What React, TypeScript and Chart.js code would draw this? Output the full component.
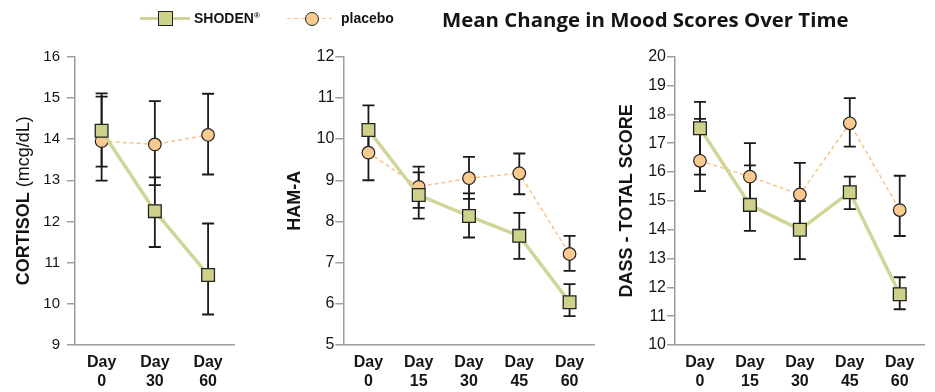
import React, { useEffect, useRef } from "react";
import { Chart, registerables } from "chart.js";

Chart.register(...registerables);

const FONT = "'Liberation Sans', Arial, Helvetica, sans-serif";

// ---- Data ----
const cortisolLabels = [["Day", "0"], ["Day", "30"], ["Day", "60"]];
const cortisolShoden = [14.2, 12.25, 10.7];
const cortisolShodenLow = [13.33, 11.38, 9.74];
const cortisolShodenHigh = [15.03, 13.07, 11.95];
const cortisolPlacebo = [13.95, 13.87, 14.1];
const cortisolPlaceboLow = [12.99, 12.88, 13.14];
const cortisolPlaceboHigh = [15.11, 14.92, 15.1];

const hamaLabels = [["Day", "0"], ["Day", "15"], ["Day", "30"], ["Day", "45"], ["Day", "60"]];
const hamaShoden = [10.22, 8.64, 8.13, 7.65, 6.04];
const hamaShodenLow = [9.62, 8.07, 7.61, 7.09, 5.7];
const hamaShodenHigh = [10.82, 9.19, 8.68, 8.21, 6.48];
const hamaPlacebo = [9.67, 8.84, 9.05, 9.17, 7.21];
const hamaPlaceboLow = [9.0, 8.33, 8.55, 8.66, 6.8];
const hamaPlaceboHigh = [10.34, 9.33, 9.57, 9.65, 7.65];

const dassLabels = [["Day", "0"], ["Day", "15"], ["Day", "30"], ["Day", "45"], ["Day", "60"]];
const dassShoden = [17.52, 14.86, 14.0, 15.3, 11.76];
const dassShodenLow = [15.91, 13.96, 12.98, 14.71, 11.24];
const dassShodenHigh = [18.43, 16.23, 14.99, 15.84, 12.35];
const dassPlacebo = [16.39, 15.84, 15.22, 17.69, 14.68];
const dassPlaceboLow = [15.34, 14.8, 14.12, 16.88, 13.78];
const dassPlaceboHigh = [17.84, 17.0, 16.32, 18.56, 15.87];

const seriesNames = ["SHODEN", "placebo"];
const chartTitle = "Mean Change in Mood Scores Over Time";

// ---- Styles ----
const SHODEN_LINE = "#d2d597";
const SHODEN_FILL = "#cdd18a";
const PLACEBO_LINE = "#f8c48c";
const PLACEBO_FILL = "#f9c98f";
const MARK_BORDER = "#222222";
const AXIS_GRAY = "#9e9e9e";
const TEXT = "#151515";

const errorBarPlugin = {
  id: "errorBars",
  beforeDatasetsDraw(chart: any) {
    const ctx = chart.ctx;
    const yScale = chart.scales.y;
    chart.data.datasets.forEach((ds: any, i: number) => {
      if (!ds.errLow) return;
      const meta = chart.getDatasetMeta(i);
      ctx.save();
      ctx.strokeStyle = "#1a1a1a";
      ctx.lineWidth = 1.8;
      meta.data.forEach((pt: any, j: number) => {
        const x = pt.x;
        const yl = yScale.getPixelForValue(ds.errLow[j]);
        const yh = yScale.getPixelForValue(ds.errHigh[j]);
        ctx.beginPath();
        ctx.moveTo(x, yl);
        ctx.lineTo(x, yh);
        ctx.moveTo(x - 6, yl);
        ctx.lineTo(x + 6, yl);
        ctx.moveTo(x - 6, yh);
        ctx.lineTo(x + 6, yh);
        ctx.stroke();
      });
      ctx.restore();
    });
  },
};

type Seg = { text: string; bold: boolean };

function makeTitlePlugin(segs: Seg[], cx: number, size: number) {
  return {
    id: "yTitle",
    afterDraw(chart: any) {
      const ctx = chart.ctx;
      const area = chart.chartArea;
      const cy = (area.top + area.bottom) / 2;
      ctx.save();
      ctx.translate(cx, cy);
      ctx.rotate(-Math.PI / 2);
      ctx.fillStyle = TEXT;
      ctx.textBaseline = "middle";
      ctx.textAlign = "left";
      let total = 0;
      const widths = segs.map((s) => {
        ctx.font = `${s.bold ? "bold " : ""}${size}px ${FONT}`;
        const w = ctx.measureText(s.text).width;
        total += w;
        return w;
      });
      let x = -total / 2;
      segs.forEach((s, k) => {
        ctx.font = `${s.bold ? "bold " : ""}${size}px ${FONT}`;
        ctx.fillText(s.text, x, 0);
        x += widths[k];
      });
      ctx.restore();
    },
  };
}

type PanelProps = {
  labels: string[][];
  shoden: number[];
  shodenLow: number[];
  shodenHigh: number[];
  placebo: number[];
  placeboLow: number[];
  placeboHigh: number[];
  yMin: number;
  yMax: number;
  left: number;
  width: number;
  yAxisWidth: number;
  padRight: number;
  tickPad: number;
  tickSize: number;
  titleSegs: Seg[];
  titleX: number;
};

function Panel(p: PanelProps) {
  const ref = useRef<HTMLCanvasElement | null>(null);
  useEffect(() => {
    if (!ref.current) return;
    const chart = new Chart(ref.current, {
      type: "line",
      data: {
        labels: p.labels as any,
        datasets: [
          {
            label: seriesNames[0],
            data: p.shoden,
            errLow: p.shodenLow,
            errHigh: p.shodenHigh,
            borderColor: SHODEN_LINE,
            borderWidth: 3.5,
            pointStyle: "rect",
            pointRadius: 9,
            pointHoverRadius: 9,
            pointBackgroundColor: SHODEN_FILL,
            pointBorderColor: MARK_BORDER,
            pointBorderWidth: 1.3,
            tension: 0,
          } as any,
          {
            label: seriesNames[1],
            data: p.placebo,
            errLow: p.placeboLow,
            errHigh: p.placeboHigh,
            borderColor: PLACEBO_LINE,
            borderWidth: 1.5,
            borderDash: [4, 3],
            pointStyle: "circle",
            pointRadius: 6.3,
            pointHoverRadius: 6.3,
            pointBackgroundColor: PLACEBO_FILL,
            pointBorderColor: MARK_BORDER,
            pointBorderWidth: 1.2,
            tension: 0,
          } as any,
        ],
      },
      options: {
        responsive: false,
        maintainAspectRatio: false,
        animation: false,
        events: [],
        layout: { padding: { top: 56.7, right: p.padRight, left: 0, bottom: 0 } },
        plugins: {
          legend: { display: false },
          tooltip: { enabled: false },
          title: { display: false },
        },
        scales: {
          x: {
            type: "category",
            offset: true,
            grid: { drawOnChartArea: false, drawTicks: false },
            border: { color: AXIS_GRAY, width: 1.5 },
            ticks: {
              color: TEXT,
              padding: 8,
              maxRotation: 0,
              autoSkip: false,
              font: { family: FONT, size: 16, weight: "bold", lineHeight: 1.2 },
            },
            afterFit: (s: any) => {
              s.height = 47;
            },
          },
          y: {
            min: p.yMin,
            max: p.yMax,
            grid: {
              drawOnChartArea: false,
              drawTicks: true,
              tickLength: 8,
              color: AXIS_GRAY,
              lineWidth: 1.5,
            },
            border: { color: AXIS_GRAY, width: 1.5 },
            ticks: {
              stepSize: 1,
              color: TEXT,
              padding: p.tickPad,
              font: { family: FONT, size: p.tickSize },
            },
            afterFit: (s: any) => {
              s.width = p.yAxisWidth;
            },
          },
        },
      } as any,
      plugins: [errorBarPlugin, makeTitlePlugin(p.titleSegs, p.titleX, 18)],
    });
    return () => chart.destroy();
  }, []);
  return (
    <canvas
      ref={ref}
      width={p.width}
      height={392}
      style={{ position: "absolute", left: p.left, top: 0, width: p.width, height: 392 }}
    />
  );
}

export default function App() {
  return (
    <div
      style={{
        position: "fixed",
        left: 0,
        top: 0,
        width: 935,
        height: 392,
        background: "#fff",
        fontFamily: FONT,
        overflow: "hidden",
      }}
    >
      <Panel
        labels={cortisolLabels}
        shoden={cortisolShoden}
        shodenLow={cortisolShodenLow}
        shodenHigh={cortisolShodenHigh}
        placebo={cortisolPlacebo}
        placeboLow={cortisolPlaceboLow}
        placeboHigh={cortisolPlaceboHigh}
        yMin={9}
        yMax={16}
        left={0}
        width={245}
        yAxisWidth={75}
        padRight={8}
        tickPad={7}
        tickSize={15}
        titleSegs={[
          { text: "CORTISOL", bold: true },
          { text: " (mcg/dL)", bold: false },
        ]}
        titleX={24}
      />
      <Panel
        labels={hamaLabels}
        shoden={hamaShoden}
        shodenLow={hamaShodenLow}
        shodenHigh={hamaShodenHigh}
        placebo={hamaPlacebo}
        placeboLow={hamaPlaceboLow}
        placeboHigh={hamaPlaceboHigh}
        yMin={5}
        yMax={12}
        left={245}
        width={360}
        yAxisWidth={98.3}
        padRight={8.3}
        tickPad={1}
        tickSize={16}
        titleSegs={[{ text: "HAM-A", bold: true }]}
        titleX={50}
      />
      <Panel
        labels={dassLabels}
        shoden={dassShoden}
        shodenLow={dassShodenLow}
        shodenHigh={dassShodenHigh}
        placebo={dassPlacebo}
        placeboLow={dassPlaceboLow}
        placeboHigh={dassPlaceboHigh}
        yMin={10}
        yMax={20}
        left={605}
        width={330}
        yAxisWidth={70}
        padRight={7}
        tickPad={1}
        tickSize={16}
        titleSegs={[{ text: "DASS - TOTAL SCORE", bold: true }]}
        titleX={22}
      />

      {/* Legend */}
      <div
        style={{
          position: "absolute",
          left: 140,
          top: 16.5,
          width: 50,
          height: 3.5,
          background: SHODEN_LINE,
        }}
      />
      <div
        style={{
          position: "absolute",
          left: 158,
          top: 11,
          width: 15,
          height: 15,
          boxSizing: "border-box",
          background: SHODEN_FILL,
          border: `1.3px solid ${MARK_BORDER}`,
        }}
      />
      <div
        style={{
          position: "absolute",
          left: 194,
          top: 9,
          height: 18,
          lineHeight: "18px",
          fontSize: 14,
          fontWeight: "bold",
          color: TEXT,
          whiteSpace: "nowrap",
        }}
      >
        {seriesNames[0]}
        <sup style={{ fontSize: 8, verticalAlign: "top", lineHeight: "14px" }}>®</sup>
      </div>
      <div
        style={{
          position: "absolute",
          left: 287,
          top: 17.5,
          width: 45,
          height: 1.5,
          background: `repeating-linear-gradient(to right, ${PLACEBO_LINE} 0 4px, transparent 4px 7px)`,
        }}
      />
      <div
        style={{
          position: "absolute",
          left: 305,
          top: 11.5,
          width: 14,
          height: 14,
          boxSizing: "border-box",
          borderRadius: "50%",
          background: PLACEBO_FILL,
          border: `1.2px solid ${MARK_BORDER}`,
        }}
      />
      <div
        style={{
          position: "absolute",
          left: 341,
          top: 9,
          height: 18,
          lineHeight: "18px",
          fontSize: 14,
          fontWeight: "bold",
          color: TEXT,
          whiteSpace: "nowrap",
        }}
      >
        {seriesNames[1]}
      </div>

      {/* Title */}
      <div
        style={{
          position: "absolute",
          left: 442,
          top: 5,
          height: 28,
          lineHeight: "28px",
          fontSize: 20.4,
          fontWeight: 700,
          fontFamily: "'Open Sans', 'Noto Sans', sans-serif",
          color: TEXT,
          whiteSpace: "nowrap",
        }}
      >
        {chartTitle}
      </div>
    </div>
  );
}
